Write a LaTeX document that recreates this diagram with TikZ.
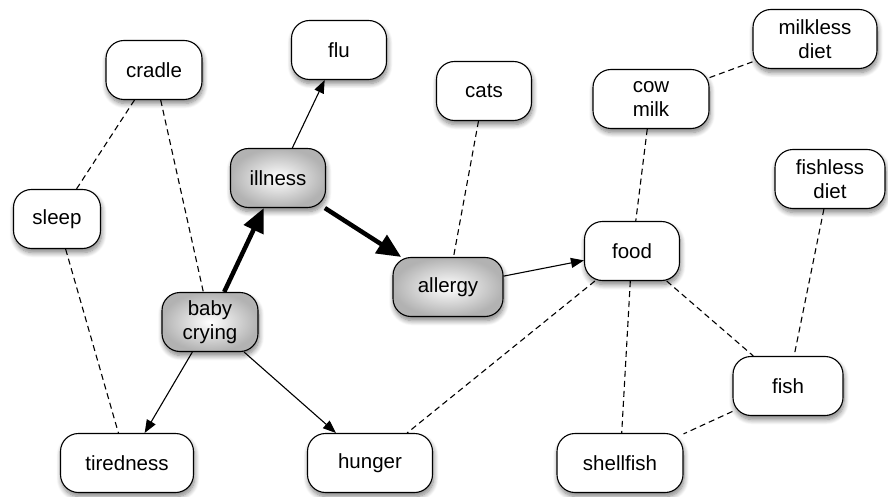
\documentclass[tikz,border=0pt]{standalone}
\usepackage{fontspec}
\setmainfont{Liberation Sans}
\usetikzlibrary{arrows.meta,shadows.blur}
\begin{document}
\begin{tikzpicture}[x=1pt,y=-1pt,
  concept/.style={draw=black, line width=1.1pt, fill=white, rounded corners=18pt,
    minimum height=59pt, inner sep=2pt, align=center,
    font=\fontsize{20.5}{24}\selectfont,
    blur shadow={shadow xshift=1pt, shadow yshift=-4pt, shadow blur radius=5pt, shadow opacity=50, shadow blur steps=8}},
  hot/.style={concept, inner color=white, outer color=black!30},
  link/.style={line width=1.1pt, -{Triangle[length=13pt,width=10pt]}},
  strong/.style={line width=4.5pt, -{Triangle[length=24pt,width=21pt]}},
  assoc/.style={line width=1.1pt, dash pattern=on 6pt off 4pt}]
\useasboundingbox (0,0) rectangle (888,497);
\node[concept, minimum width=96pt] (cradle) at (154,70) {cradle};
\node[concept, minimum width=87pt] (sleep) at (57,219) {sleep};
\node[hot, minimum width=95pt] (illness) at (278,178) {illness};
\node[hot, minimum width=96pt] (baby) at (210,322) {baby\\crying};
\node[hot, minimum width=110pt] (allergy) at (448,287) {allergy};
\node[concept, minimum width=95pt] (flu) at (339,50) {flu};
\node[concept, minimum width=95pt] (cats) at (484,91) {cats};
\node[concept, minimum width=116pt] (cowmilk) at (651,99) {cow\\milk};
\node[concept, minimum width=124pt] (milkless) at (815,39) {milkless\\diet};
\node[concept, minimum width=110pt] (fishless) at (830,179) {fishless\\diet};
\node[concept, minimum width=95pt] (food) at (632,251) {food};
\node[concept, minimum width=110pt] (fish) at (788,386) {fish};
\node[concept, minimum width=126pt] (shellfish) at (620,463) {shellfish};
\node[concept, minimum width=133pt] (tiredness) at (127,463) {tiredness};
\node[concept, minimum width=125pt] (hunger) at (370,463) {hunger};

\draw[assoc] (cradle) -- (sleep);
\draw[assoc] (cradle) -- (baby);
\draw[assoc] (sleep) -- (tiredness);
\draw[assoc] (cats) -- (allergy);
\draw[assoc] (cowmilk) -- (milkless);
\draw[assoc] (cowmilk) -- (food);
\draw[assoc] (food) -- (hunger);
\draw[assoc] (food) -- (shellfish);
\draw[assoc] (food) -- (fish);
\draw[assoc] (fishless) -- (fish);
\draw[assoc] (fish) -- (shellfish);

\draw[strong] (baby) -- (illness);
\draw[strong] (illness) -- (allergy);
\draw[link] (illness) -- (flu);
\draw[link] (allergy) -- (food);
\draw[link] (baby) -- (tiredness);
\draw[link] (baby) -- (hunger);
\end{tikzpicture}
\end{document}
